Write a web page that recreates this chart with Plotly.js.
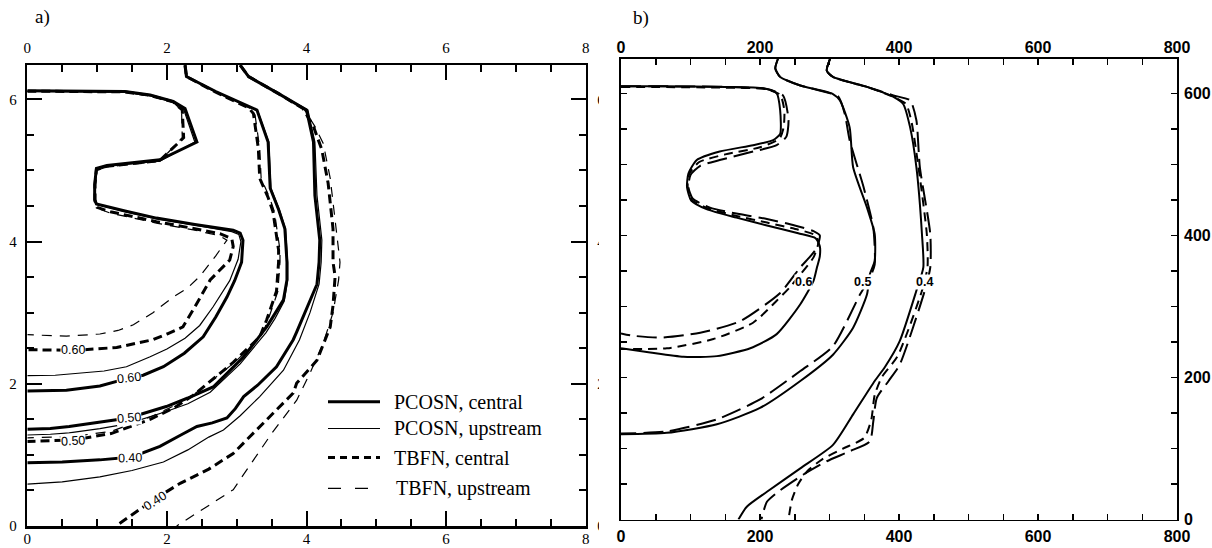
<!DOCTYPE html>
<html><head><meta charset="utf-8">
<script src="https://cdn.plot.ly/plotly-3.0.1.min.js"></script>
<style>body{margin:0;background:#fff}#chart{width:1212px;height:548px}</style>
</head><body><div id="chart"></div>
<script>
// ---------- Panel a data (x, y) ----------
const a_pc_060 = [[0,6.12],[0.5,6.12],[1.0,6.12],[1.4,6.11],[1.76,6.06],[2.09,5.97],[2.26,5.87],[2.43,5.40],[1.90,5.15],[1.14,5.07],[0.99,5.03],[0.965,4.80],[0.965,4.59],[0.99,4.53],[1.4,4.43],[1.85,4.33],[2.4,4.24],[2.95,4.16],[3.05,4.12],[3.09,4.02],[3.07,3.71],[2.97,3.45],[2.86,3.22],[2.70,2.94],[2.52,2.66],[2.25,2.43],[1.95,2.24],[1.66,2.12],[1.45,2.08],[1.04,1.97],[0.56,1.91],[0,1.90]];
const a_pu_060 = [[0,6.11],[1.0,6.11],[1.4,6.10],[1.76,6.05],[2.09,5.96],[2.24,5.86],[2.40,5.40],[1.90,5.13],[1.14,5.06],[0.99,5.02],[0.975,4.80],[0.975,4.59],[1.0,4.52],[1.4,4.42],[1.85,4.32],[2.4,4.23],[2.93,4.14],[3.03,4.10],[3.06,4.00],[3.02,3.75],[2.90,3.45],[2.66,3.08],[2.47,2.82],[2.26,2.64],[2.0,2.49],[1.76,2.38],[1.42,2.24],[1.1,2.18],[0.80,2.15],[0.4,2.12],[0,2.115]];
const a_tc_060 = [[0,6.115],[1.0,6.115],[1.4,6.105],[1.76,6.055],[2.09,5.965],[2.22,5.85],[2.24,5.46],[1.90,5.14],[1.14,5.06],[0.99,5.01],[0.97,4.80],[0.97,4.57],[1.0,4.48],[1.19,4.42],[1.85,4.28],[2.4,4.18],[2.76,4.11],[2.93,4.04],[2.95,3.93],[2.90,3.74],[2.62,3.46],[2.40,3.08],[2.23,2.80],[2.0,2.70],[1.80,2.62],[1.28,2.51],[0.66,2.47],[0,2.48]];
const a_tu_060 = [[0,6.115],[1.0,6.115],[1.4,6.10],[1.76,6.05],[2.09,5.96],[2.21,5.85],[2.22,5.46],[1.90,5.13],[1.14,5.05],[0.99,5.00],[0.975,4.80],[0.975,4.57],[1.0,4.47],[1.19,4.40],[1.85,4.26],[2.4,4.16],[2.76,4.08],[2.86,4.02],[2.70,3.80],[2.47,3.51],[2.30,3.35],[2.09,3.22],[1.80,3.00],[1.52,2.83],[1.30,2.75],[1.04,2.70],[0.56,2.67],[0,2.69]];

const a_pc_050 = [[2.26,6.48],[2.28,6.32],[2.7,6.11],[3.19,5.90],[3.29,5.85],[3.45,5.40],[3.47,5.05],[3.48,4.75],[3.60,4.45],[3.69,4.18],[3.72,3.71],[3.72,3.46],[3.67,3.18],[3.55,2.98],[3.43,2.80],[3.10,2.38],[2.67,1.96],[2.3,1.80],[1.99,1.68],[1.45,1.52],[1.04,1.46],[0.6,1.40],[0.33,1.37],[0,1.36]];
const a_pu_050 = [[2.26,6.48],[2.29,6.32],[2.7,6.10],[3.20,5.89],[3.30,5.84],[3.46,5.40],[3.48,5.05],[3.49,4.75],[3.61,4.45],[3.70,4.18],[3.73,3.71],[3.73,3.46],[3.68,3.16],[3.55,2.92],[3.42,2.72],[3.05,2.28],[2.62,1.88],[2.3,1.72],[1.99,1.61],[1.45,1.44],[1.04,1.37],[0.6,1.31],[0.33,1.29],[0,1.28]];
const a_tc_050 = [[2.26,6.48],[2.28,6.32],[2.7,6.10],[3.17,5.88],[3.24,5.80],[3.31,5.31],[3.33,4.89],[3.45,4.62],[3.52,4.42],[3.60,3.88],[3.60,3.71],[3.57,3.30],[3.43,2.90],[3.33,2.66],[2.95,2.30],[2.38,1.84],[2.1,1.66],[1.76,1.50],[1.2,1.30],[0.66,1.21],[0,1.19]];
const a_tu_050 = [[2.26,6.48],[2.29,6.32],[2.7,6.10],[3.18,5.88],[3.26,5.80],[3.33,5.31],[3.35,4.89],[3.47,4.62],[3.54,4.42],[3.62,3.88],[3.62,3.71],[3.59,3.30],[3.45,2.90],[3.35,2.66],[2.97,2.30],[2.40,1.86],[2.1,1.69],[1.78,1.54],[1.2,1.33],[0.66,1.26],[0,1.24]];

const a_pc_040 = [[3.05,6.48],[3.17,6.32],[3.6,6.08],[4.00,5.85],[4.10,5.40],[4.12,4.65],[4.19,4.02],[4.18,3.71],[4.15,3.40],[4.00,3.04],[3.86,2.73],[3.81,2.62],[3.57,2.24],[3.30,1.98],[3.10,1.82],[2.98,1.65],[2.86,1.52],[2.65,1.45],[2.43,1.40],[2.2,1.28],[1.90,1.12],[1.50,0.97],[1.04,0.93],[0.5,0.90],[0,0.89]];
const a_pu_040 = [[3.05,6.48],[3.18,6.32],[3.6,6.08],[4.02,5.85],[4.12,5.40],[4.15,4.65],[4.22,4.02],[4.21,3.71],[4.18,3.40],[4.05,3.00],[3.90,2.62],[3.67,2.19],[3.33,1.82],[3.05,1.55],[2.81,1.35],[2.6,1.25],[2.3,1.07],[1.95,0.90],[1.5,0.78],[1.04,0.69],[0.5,0.62],[0,0.59]];
const a_tc_040 = [[3.05,6.48],[3.17,6.32],[3.6,6.08],[3.95,5.87],[4.10,5.62],[4.22,5.29],[4.31,4.82],[4.38,4.18],[4.38,3.71],[4.41,3.51],[4.38,3.10],[4.34,2.80],[4.15,2.33],[3.86,2.01],[3.81,1.87],[3.43,1.49],[2.95,1.02],[2.6,0.80],[2.19,0.60],[1.81,0.37],[1.33,0.04],[1.27,0]];
const a_tu_040 = [[3.05,6.48],[3.18,6.32],[3.6,6.08],[3.96,5.87],[4.12,5.62],[4.24,5.38],[4.34,4.89],[4.43,4.18],[4.48,3.71],[4.46,3.46],[4.38,3.00],[4.24,2.57],[4.05,2.15],[3.86,1.77],[3.5,1.30],[2.95,0.51],[2.5,0.22],[2.14,0]];

// contour labels panel a: [x, y, text, angle]
const a_labels = [[0.66,2.48,"0.60",0],[1.45,2.08,"0.60",-6],[1.45,1.52,"0.50",-5],[0.66,1.20,"0.50",-3],[1.47,0.96,"0.40",-2],[1.83,0.35,"0.40",-33]];
const a_legendNames = ["PCOSN, central","PCOSN, upstream","TBFN, central","TBFN, upstream"];
const a_xticks = [0,2,4,6,8];
const a_yticks = [0,2,4,6];

// ---------- Panel b data (x, y) ----------
const b_solid_06 = [[0,610],[60,610],[150,609],[205,607],[224,600],[229,576],[229,543],[219,534],[190,527],[142,518],[109,506],[97,487],[95,468],[101,449],[123,437],[166,425],[210,414],[255,403],[280,396],[286,385],[286,370],[282,355],[277,336],[258,303],[224,261],[186,241],[138,230],[90,229],[42,235],[0,241]];
const b_long_06 = [[0,610],[150,609],[210,606],[233,597],[241,563],[238,539],[224,527],[190,518],[142,506],[114,498],[100,485],[97,468],[103,452],[128,439],[170,430],[210,423],[250,414],[277,406],[286,400],[282,383],[272,370],[258,355],[229,319],[171,279],[114,263],[56,256],[15,259],[0,262]];
const b_short_06 = [[0,609],[150,608],[208,606],[229,598],[235,576],[234,552],[228,536],[200,524],[150,514],[112,503],[98,486],[96,468],[102,450],[125,438],[168,427],[210,418],[255,408],[280,400],[284,390],[277,369],[258,345],[243,327],[224,308],[190,277],[133,254],[66,241],[0,240]];

const b_solid_05 = [[226,649],[222,635],[229,623],[258,611],[305,599],[315,590],[329,552],[334,496],[354,439],[365,402],[365,364],[358,345],[354,317],[334,270],[305,232],[258,195],[200,157],[138,134],[66,122],[0,120]];
const b_long_05 = [[226,649],[222,635],[229,623],[258,611],[305,599],[313,595],[322,571],[329,534],[349,468],[363,411],[365,359],[358,340],[344,317],[305,244],[258,209],[200,169],[138,141],[66,124],[0,121]];

const b_solid_04 = [[301,649],[296,632],[305,623],[354,609],[392,595],[406,585],[416,552],[425,496],[433,402],[435,355],[425,322],[401,251],[380,215],[365,195],[334,148],[305,105],[258,72],[210,39],[181,18],[169,0]];
const b_long_04 = [[301,649],[296,632],[305,623],[354,609],[392,597],[416,590],[425,562],[430,496],[445,402],[445,355],[437,322],[401,218],[385,195],[368,171],[363,138],[358,110],[329,96],[296,82],[262,63],[226,39],[210,25],[202,0]];
const b_short_04 = [[301,649],[296,632],[305,623],[354,609],[392,595],[410,585],[418,560],[428,496],[440,402],[441,355],[433,322],[398,230],[375,200],[365,175],[360,140],[350,115],[320,100],[290,85],[268,68],[255,50],[246,28],[241,0]];

const b_labels = [[262,334,"0.6"],[347,334,"0.5"],[437,335,"0.4"]];
const b_xticks = [0,200,400,600,800];
const b_yticks = [0,200,400,600];

// ---------- styles ----------
const S_pc = {color:'black', width:3};
const S_pu = {color:'black', width:1.2};
const S_tc = {color:'black', width:3, dash:'9px,5px'};
const S_tu = {color:'black', width:1.2, dash:'10px,8px'};
const S_bs = {color:'black', width:2, shape:'spline', smoothing:0.6};
const S_bl = {color:'black', width:2, dash:'20px,7px', shape:'spline', smoothing:0.6};
const S_bd = {color:'black', width:2, dash:'9px,6px', shape:'spline', smoothing:0.6};

function tr(pts, xa, ya, line){
  return {x:pts.map(p=>p[0]), y:pts.map(p=>p[1]), mode:'lines', line:line,
          xaxis:xa, yaxis:ya, hoverinfo:'skip', showlegend:false};
}
const traces = [];
[a_pu_060,a_pu_050,a_pu_040].forEach(d=>traces.push(tr(d,'x','y',S_pu)));
[a_tu_060,a_tu_050,a_tu_040].forEach(d=>traces.push(tr(d,'x','y',S_tu)));
[a_tc_060,a_tc_050,a_tc_040].forEach(d=>traces.push(tr(d,'x','y',S_tc)));
[a_pc_060,a_pc_050,a_pc_040].forEach(d=>traces.push(tr(d,'x','y',S_pc)));
[b_short_06,b_short_04].forEach(d=>traces.push(tr(d,'x3','y3',S_bd)));
[b_long_06,b_long_05,b_long_04].forEach(d=>traces.push(tr(d,'x3','y3',S_bl)));
[b_solid_06,b_solid_05,b_solid_04].forEach(d=>traces.push(tr(d,'x3','y3',S_bs)));
// empty traces so the mirrored label axes exist
traces.push({x:[], y:[], xaxis:'x2', yaxis:'y2', mode:'lines', showlegend:false, hoverinfo:'skip'});
traces.push({x:[], y:[], xaxis:'x4', yaxis:'y4', mode:'lines', showlegend:false, hoverinfo:'skip'});

const W=1212, H=548;
const px = v=>v/W, py = v=>1-v/H;

const serif = {family:'"Liberation Serif", "Times New Roman", serif', size:15, color:'black'};
const sansB = {family:'"Liberation Sans", Arial, sans-serif', size:16, color:'black', weight:'bold'};

const aDomX = [px(27.3), px(585.7)], aDomY = [py(526), py(65)];
const bDomX = [px(621), px(1177)], bDomY = [py(519.5), py(58.5)];

function aAx(side, tickvals, range, overlay, anchor, standoff){
  const o = {domain: side==='top'||side==='bottom'? aDomX : aDomY, range:range, side:side, anchor:anchor,
    showline:true, linecolor:'black', linewidth:2.5, mirror:false, showgrid:false, zeroline:false,
    ticks:'inside', ticklen:15, tickwidth:2, tickcolor:'black', tickmode:'array', tickvals:tickvals,
    ticktext:tickvals.map(String), tickfont:serif, ticklabelstandoff:standoff, fixedrange:true,
    minor:{tickmode:'linear', tick0:0, dtick:0.5, ticks:'inside', ticklen:7, tickwidth:2, tickcolor:'black'}};
  if(overlay) o.overlaying = overlay;
  return o;
}
function bAx(side, tickvals, range, overlay, anchor, standoff, showlabels){
  const o = {domain: side==='top'||side==='bottom'? bDomX : bDomY, range:range, side:side, anchor:anchor,
    showline:true, linecolor:'black', linewidth:1.8, mirror:false, showgrid:false, zeroline:false,
    ticks:'inside', ticklen:6, tickwidth:1.5, tickcolor:'black', tickmode:'array', tickvals:tickvals,
    ticktext:tickvals.map(String), tickfont:sansB, ticklabelstandoff:standoff, showticklabels:showlabels, fixedrange:true,
    minor:{tickmode:'linear', tick0:0, dtick:50, ticks:'inside', ticklen:6, tickwidth:1.5, tickcolor:'black'}};
  if(overlay) o.overlaying = overlay;
  return o;
}

const annotations = [];
a_labels.forEach(l=>annotations.push({x:l[0], y:l[1], xref:'x', yref:'y', text:l[2], showarrow:false,
  textangle:l[3], bgcolor:'white', borderpad:0,
  font:{family:'"Liberation Sans", Arial, sans-serif', size:12.5, color:'black'}}));
b_labels.forEach(l=>annotations.push({x:l[0], y:l[1], xref:'x3', yref:'y3', text:l[2], showarrow:false,
  bgcolor:'white', borderpad:0,
  font:{family:'"Liberation Sans", Arial, sans-serif', size:12.5, color:'black', weight:'bold'}}));
annotations.push({x:px(42), y:py(17), xref:'paper', yref:'paper', xanchor:'center', yanchor:'middle', text:'a)', showarrow:false,
  font:{family:'"Liberation Serif", serif', size:19, color:'black'}});
annotations.push({x:px(641), y:py(18), xref:'paper', yref:'paper', xanchor:'center', yanchor:'middle', text:'b)', showarrow:false,
  font:{family:'"Liberation Serif", serif', size:19, color:'black'}});

// legend (panel a)
const legRows = [401.7, 428.5, 457.5, 488.3];
const legStyles = [S_pc, S_pu, {color:'black',width:3,dash:'7px,5px'}, {color:'black',width:1.2,dash:'13px,14px'}];
const legTextX = [392, 392, 392, 394];
const shapes = [];
legRows.forEach((r,i)=>{
  shapes.push({type:'line', xref:'paper', yref:'paper', x0:px(328), x1:px(380), y0:py(r), y1:py(r),
    line:{color:'black', width:legStyles[i].width, dash:legStyles[i].dash||'solid'}});
  annotations.push({x:px(legTextX[i]), y:py(r), xref:'paper', yref:'paper', xanchor:'left', yanchor:'middle',
    text:a_legendNames[i], showarrow:false, font:{family:'"Liberation Serif", serif', size:20, color:'black'}});
});
// strip where the right-hand panel overlaps panel a's right labels
shapes.push({type:'rect', xref:'paper', yref:'paper', x0:px(599), x1:px(614), y0:0, y1:1,
  fillcolor:'white', line:{width:0}, layer:'above'});

const layout = {
  width:W, height:H, margin:{l:0,r:0,t:0,b:0}, paper_bgcolor:'white', plot_bgcolor:'white',
  showlegend:false,
  xaxis: aAx('bottom', a_xticks, [0,8], null, 'y', -3),
  xaxis2: aAx('top', a_xticks, [0,8], 'x', 'y', 4),
  yaxis: aAx('left', a_yticks, [0,6.483], null, 'x', 5),
  yaxis2: aAx('right', a_yticks, [0,6.483], 'y', 'x', 6),
  xaxis3: bAx('bottom', b_xticks, [0,800], null, 'y3', 1, true),
  xaxis4: bAx('top', b_xticks, [0,800], 'x3', 'y3', -3, true),
  yaxis3: bAx('left', b_yticks, [0,649], null, 'x3', 4, false),
  yaxis4: bAx('right', b_yticks, [0,649], 'y3', 'x3', 2, true),
  annotations: annotations, shapes: shapes
};
Plotly.newPlot('chart', traces, layout, {staticPlot:true, displayModeBar:false});
</script></body></html>
